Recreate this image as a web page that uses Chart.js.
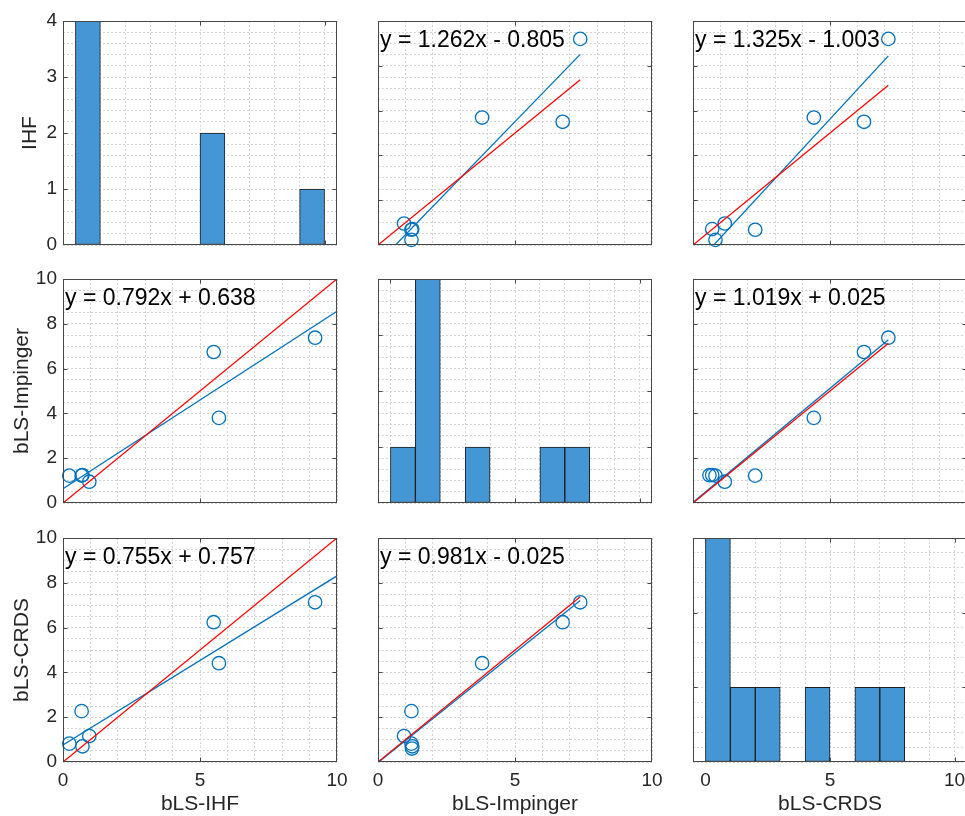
<!DOCTYPE html>
<html>
<head>
<meta charset="utf-8">
<title>bLS method comparison - scatter matrix</title>
<script src="https://cdn.jsdelivr.net/npm/chart.js@4.4.1/dist/chart.umd.min.js"></script>
<style>
  html, body { margin: 0; padding: 0; background: #fff; overflow: hidden; }
  #fig { position: relative; width: 965px; height: 816px; overflow: hidden; background: #fff; }
  #fig canvas { position: absolute; }
</style>
</head>
<body>
<div id="fig"></div>
<script>
/* ------------------------------------------------------------
   Data: one entry per sampling period (null = no value)
   ------------------------------------------------------------ */
const colNames = ['bLS-IHF', 'bLS-Impinger', 'bLS-CRDS'];   // x axis titles
const rowNames = ['IHF', 'bLS-Impinger', 'bLS-CRDS'];       // y axis titles

const bLS_IHF      = [0.96, 0.68, 0.23, null, 0.71, 5.69, 5.50, 9.20];
const bLS_Impinger = [0.95, 1.22, 1.22, 1.24, 1.25, 3.80, 6.74, 7.38];
const bLS_CRDS     = [1.16, 2.27, 0.82, 0.60, 0.70, 4.41, 6.24, 7.13];
const series = [bLS_IHF, bLS_Impinger, bLS_CRDS];

// printed regression results (row = y variable, column = x variable)
const fitSlope = [
  [null,  1.262, 1.325],
  [0.792, null,  1.019],
  [0.755, 0.981, null ]
];
const fitIntercept = [
  [null,  -0.805, -1.003],
  [0.638, null,   0.025],
  [0.757, -0.025, null ]
];
const fitXEnd = [10, 7.38, 7.13];          // lines run from x = 0 to here, per column

// histogram bins (width 1) and count axis tops
const binEdges = [0, 1, 2, 3, 4, 5, 6, 7, 8, 9, 10];
const histYMax = [4, 4, 3];

// tick labels
const xMajor = [0, 5, 10];
const yMajorScatter = [0, 2, 4, 6, 8, 10];
const yMajorHist = [[0, 1, 2, 3, 4], [0, 1, 2, 3, 4], [0, 1, 2, 3]];

/* ------------------------------------------------------------
   Layout of the 3x3 grid of axes (pixels)
   ------------------------------------------------------------ */
const colLeft = [63, 378, 693];
const rowTop  = [21, 279, 538];
const plotW = 274, plotH = 224;

const INK = '#262626';
const BLUE = '#0072BD';
const FONT = "'Liberation Sans', Arial, Helvetica, sans-serif";
Chart.defaults.font.family = FONT;
Chart.defaults.color = INK;

function steps(from, to, step) {
  const out = [];
  for (let k = 0; from + k * step <= to + 1e-9; k++) out.push(Math.round((from + k * step) * 1000) / 1000);
  return out;
}
const isIn = (list, v) => list.some(m => Math.abs(m - v) < 1e-6);

function histData(vals) {
  return binEdges.slice(0, -1).map((lo, k) => ({
    x: (lo + binEdges[k + 1]) / 2,
    y: vals.filter(v => v != null && v >= lo && v < binEdges[k + 1]).length
  })).filter(b => b.y > 0);
}

function pairs(xs, ys) {
  return xs.map((x, i) => ({ x: x, y: ys[i] })).filter(p => p.x != null && p.y != null);
}

function eqText(a, b) {
  return 'y = ' + a.toFixed(3) + 'x ' + (b < 0 ? '-' : '+') + ' ' + Math.abs(b).toFixed(3);
}

// box, inward tick marks and the regression equation
const framePlugin = {
  id: 'frame',
  afterDatasetsDraw(chart, args, o) {
    const { ctx, chartArea: a, scales } = chart;
    const l = Math.round(a.left) + 0.5, t = Math.round(a.top) + 0.5;
    const r = Math.round(a.right) - 0.5, b = Math.round(a.bottom) - 0.5;
    ctx.save();
    ctx.strokeStyle = '#474747';
    ctx.lineWidth = 1;
    ctx.beginPath();
    o.xTicks.forEach(v => {
      const px = Math.round(scales.x.getPixelForValue(v)) + 0.5;
      if (px <= l + 1 || px >= r - 1) return;
      ctx.moveTo(px, b); ctx.lineTo(px, b - 4);
      ctx.moveTo(px, t); ctx.lineTo(px, t + 4);
    });
    o.yTicks.forEach(v => {
      const py = Math.round(scales.y.getPixelForValue(v)) + 0.5;
      if (py <= t + 1 || py >= b - 1) return;
      ctx.moveTo(l, py); ctx.lineTo(l + 4, py);
      ctx.moveTo(r, py); ctx.lineTo(r - 4, py);
    });
    ctx.stroke();
    ctx.strokeRect(l, t, r - l, b - t);
    if (o.eq) {
      ctx.fillStyle = '#000';
      ctx.font = '23px ' + FONT;
      ctx.textBaseline = 'alphabetic';
      ctx.textAlign = 'left';
      ctx.fillText(o.eq, a.left + 2, a.top + 26);
    }
    ctx.restore();
  }
};

const fig = document.getElementById('fig');

for (let r = 0; r < 3; r++) {
  for (let c = 0; c < 3; c++) {
    const isHist = r === c;
    const L = c === 0 ? 63 : 8, R = r === 2 ? 18 : 8, T = 8, B = r === 2 ? 55 : 8;

    const cv = document.createElement('canvas');
    cv.width = plotW + L + R;
    cv.height = plotH + T + B;
    cv.style.left = (colLeft[c] - L) + 'px';
    cv.style.top = (rowTop[r] - T) + 'px';
    fig.appendChild(cv);

    const xMin = isHist ? -0.5 : 0, xMax = isHist ? 10.5 : 10;
    const yMax = isHist ? histYMax[c] : 10;
    const xGrid = steps(0, 10, 1);
    const yGrid = isHist ? steps(0, yMax, 0.2) : steps(0, 10, 0.5);
    const yMajor = isHist ? yMajorHist[c] : yMajorScatter;

    let datasets;
    if (isHist) {
      datasets = [{
        data: histData(series[c]),
        backgroundColor: '#4596D4',
        borderColor: '#1c1c1c',
        borderWidth: 1,
        borderSkipped: false,
        barPercentage: 1,
        categoryPercentage: 1
      }];
    } else {
      const a = fitSlope[r][c], b = fitIntercept[r][c], xe = fitXEnd[c];
      datasets = [
        { // 1:1 line
          data: [{ x: 0, y: 0 }, { x: xe, y: xe }],
          showLine: true, borderColor: '#FF0000', borderWidth: 1.3,
          pointRadius: 0, clip: 0
        },
        { // fitted line
          data: [{ x: 0, y: b }, { x: xe, y: a * xe + b }],
          showLine: true, borderColor: BLUE, borderWidth: 1.3,
          pointRadius: 0, clip: 0
        },
        { // samples
          data: pairs(series[c], series[r]),
          showLine: false, pointStyle: 'circle', pointRadius: 6.7,
          pointBorderWidth: 1.3, borderColor: BLUE,
          backgroundColor: 'rgba(0,0,0,0)', clip: false
        }
      ];
    }

    const showY = c === 0, showX = r === 2;

    new Chart(cv, {
      type: isHist ? 'bar' : 'scatter',
      data: { datasets: datasets },
      options: {
        responsive: false,
        animation: false,
        events: [],
        layout: { padding: { top: T, right: R, bottom: 0, left: 0 } },
        plugins: {
          legend: { display: false },
          tooltip: { enabled: false },
          frame: {
            xTicks: xMajor,
            yTicks: yMajor,
            eq: isHist ? null : eqText(fitSlope[r][c], fitIntercept[r][c])
          }
        },
        scales: {
          x: {
            type: 'linear',
            min: xMin, max: xMax,
            offset: false,
            afterBuildTicks: s => { s.ticks = xGrid.map(v => ({ value: v })); },
            afterFit: s => { s.height = B; s.paddingLeft = 0; s.paddingRight = 0; },
            grid: { color: '#d4d4d4', lineWidth: 1, drawTicks: false, offset: false },
            border: { display: false, dash: [2, 2] },
            ticks: {
              autoSkip: false, maxRotation: 0, padding: 7,
              font: { size: 19 }, color: INK,
              callback: v => (showX && isIn(xMajor, v)) ? String(v) : ''
            },
            title: {
              display: showX, text: colNames[c], color: INK,
              font: { size: 21 }, padding: { top: 0, bottom: 0 }
            }
          },
          y: {
            type: 'linear',
            min: 0, max: yMax,
            afterBuildTicks: s => { s.ticks = yGrid.map(v => ({ value: v })); },
            afterFit: s => { s.width = L; s.paddingTop = 0; s.paddingBottom = 0; },
            grid: { color: '#d4d4d4', lineWidth: 1, drawTicks: false },
            border: { display: false, dash: [2, 2] },
            ticks: {
              autoSkip: false, padding: 6,
              font: { size: 19 }, color: INK,
              callback: v => (showY && isIn(yMajor, v)) ? String(v) : ''
            },
            title: {
              display: showY, text: rowNames[r], color: INK,
              font: { size: 21 }, padding: { top: r === 0 ? 18 : 9.4, bottom: 0 }
            }
          }
        }
      },
      plugins: [framePlugin]
    });
  }
}
</script>
</body>
</html>
